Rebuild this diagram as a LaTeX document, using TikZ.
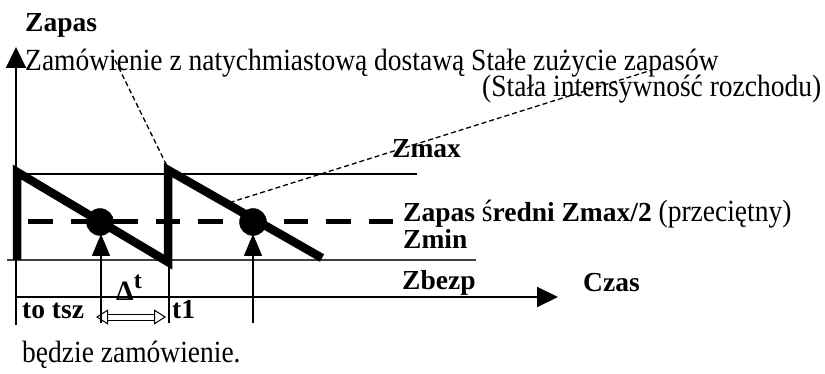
\documentclass[tikz,border=0pt]{standalone}
\usepackage{fontspec}
\setmainfont{Liberation Serif}
\usepackage{graphicx}
\usepackage{tikz}
\usetikzlibrary{arrows.meta}

\newcommand{\tall}[1]{\scalebox{1}[1.12]{#1}}

\begin{document}
\begin{tikzpicture}[x=1pt,y=-1pt,
    lbl/.style={anchor=base west,inner sep=0pt,font=\fontsize{27.5}{30}\selectfont},
    blbl/.style={lbl,font=\fontsize{27.5}{30}\selectfont\bfseries},
    leader/.style={line width=1.3pt,dash pattern=on 5pt off 3pt},
    axisline/.style={line width=2pt,-{Triangle[length=21pt,width=20pt]}},
    upline/.style={line width=1.5pt,-{Triangle[length=22pt,width=18pt]}}]
            \useasboundingbox (0,0) rectangle (825,374);

            \coordinate (yb) at (16,325);
            \coordinate (yt) at (16,47);
            \coordinate (xb) at (16,297);
            \coordinate (xt) at (558,297);
            \coordinate (max1) at (16,174);
            \coordinate (max2) at (417,174);
            \coordinate (min1) at (7,260);
            \coordinate (min2) at (476,260);
            \coordinate (sr1) at (28,222);
            \coordinate (sr2) at (395,222);

            \draw[line width=1.5pt] (max1) -- (max2);
            \draw[line width=1.5pt,black!75] (min1) -- (min2);
            \draw[line width=5pt,dash pattern=on 24.5pt off 18.1pt] (sr1) -- (sr2);

            \draw[line width=8.5pt] (17,260) coordinate(s0) -- (17,172) coordinate(s1)
                -- (168,262) coordinate(s2) -- (168,170) coordinate(s3)
                -- (322,258) coordinate(s4);

            \filldraw (100,222) coordinate(c1) circle (13.5pt);
            \filldraw (253,222) coordinate(c2) circle (13.5pt);

            \coordinate (p1) at (101,323);
            \coordinate (q1) at (101,234);
            \coordinate (p2) at (253,323);
            \coordinate (q2) at (253,234);
            \draw[upline] (p1) -- (q1);
            \draw[upline] (p2) -- (q2);
            \draw[line width=1.5pt] (169,262) coordinate(t1a) -- (169,323) coordinate(t1b);

            \draw[axisline] (yb) -- (yt);
            \draw[axisline] (xb) -- (xt);

            \draw[double,double distance=5pt,line width=1pt,
                {Triangle[open,length=12pt,width=15pt]}-{Triangle[open,length=12pt,width=15pt]}]
                (96,317) coordinate(d1) -- (166,317) coordinate(d2);

            \draw[leader] (115,60) coordinate(l1) -- (168,168) coordinate(l2);
            \draw[leader] (222,205) coordinate(l3) -- (652,70) coordinate(l4);

            \node[blbl] (zapas) at (25,32) {Zapas};
            \node[lbl] (zam) at (25,71) {\tall{Zamówienie z natychmiastową dostawą Stałe zużycie zapasów}};
            \node[lbl] (stala) at (482,97) {\tall{(Stała intensywność rozchodu)}};
            \node[blbl] (zmax) at (392,158) {Zmax};
            \node[lbl] (sredni) at (403,222) {\textbf{Zapas} \tall{ś}\textbf{redni Zmax/2} \tall{(przeciętny)}};
            \node[blbl] (zmin) at (403,249) {Zmin};
            \node[blbl] (zbezp) at (402,290) {Zbezp};
            \node[blbl] (czas) at (583,291) {Czas};
            \node[blbl] (to) at (22,318) {to tsz};
            \node[blbl] (t1) at (172,318) {t1};
            \node[anchor=base west,inner sep=0pt,font=\fontsize{28}{30}\selectfont\bfseries]
                (dt) at (116,300) {Δ\raisebox{12pt}{\fontsize{24}{26}\selectfont t}};
            \node[lbl] (bedzie) at (22,362) {\tall{będzie zamówienie.}};
        \end{tikzpicture}
\end{document}
